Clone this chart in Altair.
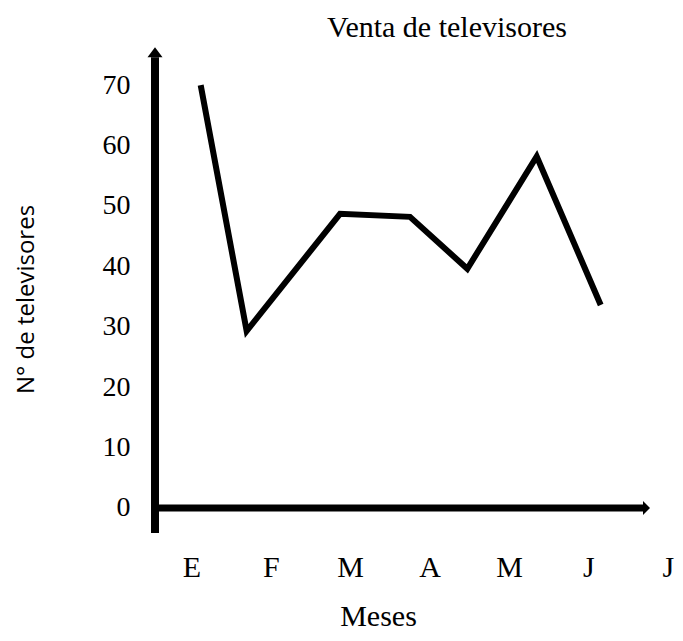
import altair as alt
import pandas as pd

# ---- data ----
months = ["E", "F", "M", "A", "M", "J", "J"]
month_pos = [0, 1, 2, 3, 4, 5, 6]
# horizontal position of each vertex of the drawn line (in month units)
x_pos = [0.117, 0.696, 1.872, 2.753, 3.475, 4.349, 5.155]
sales = [70, 29.3, 48.7, 48.2, 39.6, 58.2, 33.6]
y_ticks = [0, 10, 20, 30, 40, 50, 60, 70]

title_text = "Venta de televisores"
x_title = "Meses"
y_title = "N° de televisores"

# axis extents (scale domains) and arrow bases
x_domain = [-0.4584, 6.0907]
y_domain = [-4.14, 76.32]
x_arrow_base = 5.688
y_arrow_base = 74.63

xs = alt.Scale(domain=x_domain, nice=False, zero=False)
ys = alt.Scale(domain=y_domain, nice=False, zero=False)

line_df = pd.DataFrame({"x": x_pos, "y": sales, "order": list(range(len(sales)))})

label_expr = "[" + ",".join(f"'{m}'" for m in months) + "][datum.value]"

x_axis = alt.Axis(
    values=month_pos, labelExpr=label_expr, title=x_title,
    domain=False, ticks=False, tickSize=0, grid=False,
    labelFont="Liberation Serif", labelFontSize=30, labelColor="black",
    labelPadding=19, labelFlush=False, labelOverlap=False,
    titleFont="Liberation Serif", titleFontSize=30, titleFontWeight="normal",
    titleColor="black", titleX=223, titleY=92, titleBaseline="alphabetic",
    titleAlign="center",
)
y_axis = alt.Axis(
    values=y_ticks, title=y_title,
    domain=False, ticks=False, tickSize=0, grid=False,
    labelFont="Liberation Serif", labelFontSize=28, labelColor="black",
    labelPadding=25,
    titleFont="Open Sans", titleFontSize=24, titleFontWeight="normal",
    titleColor="black", titleX=-129, titleY=252, titleAngle=270,
    titleBaseline="middle", titleAlign="center",
)

X = alt.X("x:Q", scale=xs, axis=x_axis)
Y = alt.Y("y:Q", scale=ys, axis=y_axis)

line = alt.Chart(line_df).mark_line(color="black", strokeWidth=6, strokeJoin="miter").encode(
    x=X, y=Y, order="order:Q",
)

# axis shafts
yaxis_df = pd.DataFrame({"x": [x_domain[0]], "y": [y_domain[0]], "y2": [y_arrow_base]})
y_shaft = alt.Chart(yaxis_df).mark_rule(color="black", strokeWidth=8).encode(
    x=X, y=Y, y2="y2:Q",
)
xaxis_df = pd.DataFrame({"x": [x_domain[0]], "x2": [x_arrow_base], "y": [0]})
x_shaft = alt.Chart(xaxis_df).mark_rule(color="black", strokeWidth=7).encode(
    x=X, x2="x2:Q", y=Y,
)

# arrow heads
up_head = alt.Chart(pd.DataFrame({"x": [x_domain[0]], "y": [y_arrow_base]})).mark_point(
    shape="M0,-1.333L1,0L-1,0Z", size=225, filled=True, color="black", opacity=1, strokeWidth=0
).encode(x=X, y=Y)
right_head = alt.Chart(pd.DataFrame({"x": [x_arrow_base], "y": [0]})).mark_point(
    shape="M1,0L0,-1L0,1Z", size=196, filled=True, color="black", opacity=1, strokeWidth=0
).encode(x=X, y=Y)

chart = alt.layer(line, y_shaft, x_shaft, up_head, right_head).properties(
    width=520,
    height=486,
    autosize=alt.AutoSizeParams(type="none"),
    padding={"left": 147, "top": 39, "right": 0, "bottom": 100},
    background="white",
    title=alt.TitleParams(
        text=title_text, font="Liberation Serif", fontSize=30, fontWeight="normal",
        color="black", anchor="middle", dx=32, offset=-20, baseline="alphabetic",
    ),
).configure_view(stroke=None)

chart.save("out.html", embed_options={"renderer": "svg", "actions": False})
